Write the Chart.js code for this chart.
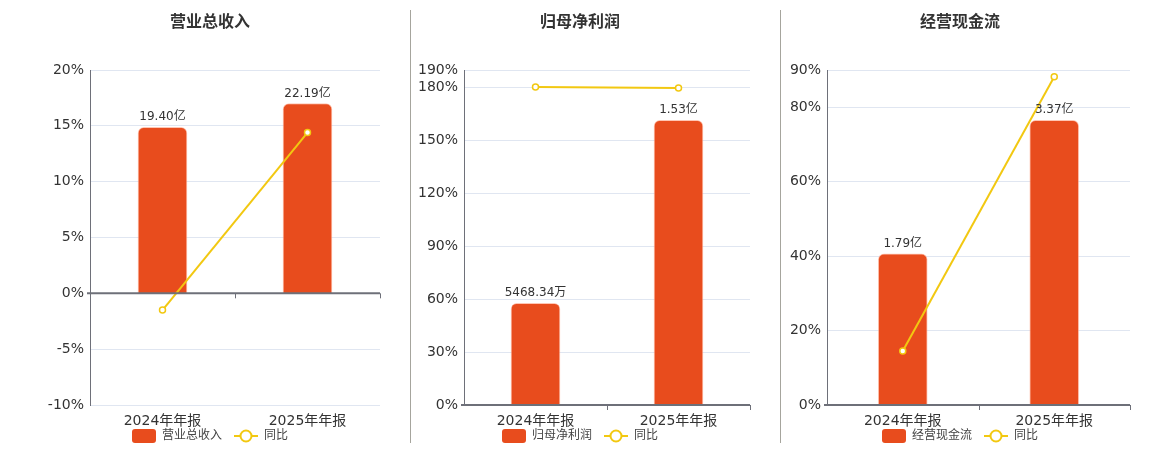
<!DOCTYPE html>
<html>
<head>
<meta charset="utf-8">
<script src="https://cdn.jsdelivr.net/npm/chart.js@4"></script>
<style>
  body { margin: 0; background: #fff; }
  .panel { position: absolute; top: 0; height: 450px; }
  .sep { position: absolute; top: 10px; width: 1px; height: 433px; background: #a6a59d; }
</style>
</head>
<body>
<div class="panel" style="left:0;width:410px"><canvas id="c1"></canvas></div>
<div class="panel" style="left:410px;width:370px"><canvas id="c2"></canvas></div>
<div class="panel" style="left:780px;width:380px"><canvas id="c3"></canvas></div>
<div class="sep" style="left:410px"></div>
<div class="sep" style="left:780px"></div>
<script>
const categories = ['2024年年报', '2025年年报'];

const revenue = [19.40, 22.19];
const revenueText = ['19.40亿', '22.19亿'];
const revenueYoy = [-1.5, 14.4];
const revenueTicks = [-10, -5, 0, 5, 10, 15, 20];

const profit = [0.546834, 1.53];
const profitText = ['5468.34万', '1.53亿'];
const profitYoy = [180.3, 179.8];
const profitTicks = [0, 30, 60, 90, 120, 150, 180, 190];

const cash = [1.79, 3.37];
const cashText = ['1.79亿', '3.37亿'];
const cashYoy = [14.5, 88.2];
const cashTicks = [0, 20, 40, 60, 80, 90];

const FONT = '"DejaVu Sans", "Noto Sans CJK SC", sans-serif';
const BAR = '#e84c1d';
const LINE = '#f2c811';

// titles, value labels, zero axis line and legend
const decor = {
    id: 'decor',
    afterDatasetsDraw(chart, args, opts) {
        const ctx = chart.ctx;
        const area = chart.chartArea;
        const y = chart.scales.y;
        const y0 = y.getPixelForValue(0);

        ctx.save();
        // zero line with category ticks
        ctx.strokeStyle = '#6e7079';
        ctx.lineWidth = 2;
        ctx.beginPath();
        ctx.moveTo(area.left - 3, y0);
        ctx.lineTo(area.right, y0);
        ctx.stroke();
        ctx.lineWidth = 1;
        const n = chart.data.labels.length;
        for (let i = 1; i <= n; i++) {
            const x = Math.round(area.left + (area.right - area.left) * i / n) + 0.5;
            ctx.beginPath();
            ctx.moveTo(x, y0);
            ctx.lineTo(x, y0 + 5);
            ctx.stroke();
        }

        // labels over the bars
        const meta = chart.getDatasetMeta(0);
        ctx.font = '12px ' + FONT;
        ctx.fillStyle = '#333';
        ctx.textAlign = 'center';
        ctx.textBaseline = 'bottom';
        meta.data.forEach((bar, i) => {
            ctx.fillText(opts.text[i], bar.x, bar.y - 4);
        });
        ctx.restore();
    },
    afterDraw(chart, args, opts) {
        const ctx = chart.ctx;
        ctx.save();
        // title
        ctx.font = 'bold 16px ' + FONT;
        ctx.fillStyle = '#333';
        ctx.textAlign = 'center';
        ctx.textBaseline = 'middle';
        ctx.fillText(opts.title, opts.cx, 23);

        // legend
        ctx.font = '12px ' + FONT;
        const t1 = chart.data.datasets[0].label;
        const t2 = chart.data.datasets[1].label;
        const w1 = ctx.measureText(t1).width;
        const w2 = ctx.measureText(t2).width;
        const total = 24 + 6 + w1 + 12 + 24 + 6 + w2;
        let x = opts.cx - total / 2;
        const ly = 436;
        ctx.fillStyle = BAR;
        ctx.beginPath();
        ctx.roundRect(x, ly - 7, 24, 14, 3);
        ctx.fill();
        x += 30;
        ctx.fillStyle = '#444';
        ctx.textAlign = 'left';
        ctx.fillText(t1, x, ly);
        x += w1 + 12;
        ctx.strokeStyle = LINE;
        ctx.lineWidth = 2;
        ctx.beginPath();
        ctx.moveTo(x, ly);
        ctx.lineTo(x + 24, ly);
        ctx.stroke();
        ctx.fillStyle = '#fff';
        ctx.beginPath();
        ctx.arc(x + 12, ly, 5.5, 0, Math.PI * 2);
        ctx.fill();
        ctx.stroke();
        x += 30;
        ctx.fillStyle = '#444';
        ctx.fillText(t2, x, ly);
        ctx.restore();
    }
};

function makePanel(id, title, name, bars, text, yoy, ticks, yWidth, cx) {
    const yMin = ticks[0];
    const yMax = ticks[ticks.length - 1];
    const barMax = Math.max(...bars) / 0.85;
    const barMin = barMax * yMin / yMax;

    new Chart(document.getElementById(id), {
        type: 'bar',
        data: {
            labels: categories,
            datasets: [
                {
                    label: name,
                    data: bars,
                    yAxisID: 'y2',
                    backgroundColor: BAR,
                    borderColor: 'rgba(255,160,130,0.6)',
                    borderWidth: 1,
                    borderRadius: { topLeft: 6, topRight: 6 },
                    borderSkipped: 'bottom',
                    barThickness: 49,
                    order: 2
                },
                {
                    type: 'line',
                    label: '同比',
                    data: yoy,
                    yAxisID: 'y',
                    borderColor: LINE,
                    borderWidth: 2,
                    pointRadius: 3,
                    pointBackgroundColor: '#fff',
                    pointBorderColor: LINE,
                    pointBorderWidth: 1.5,
                    order: 1
                }
            ]
        },
        options: {
            responsive: true,
            maintainAspectRatio: false,
            animation: false,
            layout: { padding: { left: 0, right: 30, top: 70, bottom: 0 } },
            plugins: {
                legend: { display: false },
                tooltip: { enabled: false },
                decor: { title: title, text: text, cx: cx }
            },
            scales: {
                x: {
                    grid: { display: false },
                    border: { display: false },
                    ticks: { font: { size: 14, family: FONT }, color: '#333', padding: 0 },
                    afterFit: s => { s.height = 45; }
                },
                y: {
                    position: 'left',
                    min: yMin,
                    max: yMax,
                    afterBuildTicks: s => { s.ticks = ticks.map(v => ({ value: v })); },
                    ticks: {
                        callback: v => v + '%',
                        font: { size: 14, family: FONT },
                        color: '#333',
                        padding: 6
                    },
                    grid: { color: '#e0e6f1', drawTicks: false },
                    border: { color: '#6e7079', width: 1 },
                    afterFit: s => { s.width = yWidth; }
                },
                y2: {
                    display: false,
                    min: barMin,
                    max: barMax
                }
            }
        },
        plugins: [decor]
    });
}

makePanel('c1', '营业总收入', '营业总收入', revenue, revenueText, revenueYoy, revenueTicks, 90, 210);
makePanel('c2', '归母净利润', '归母净利润', profit, profitText, profitYoy, profitTicks, 54, 170);
makePanel('c3', '经营现金流', '经营现金流', cash, cashText, cashYoy, cashTicks, 47, 180);
</script>
</body>
</html>
